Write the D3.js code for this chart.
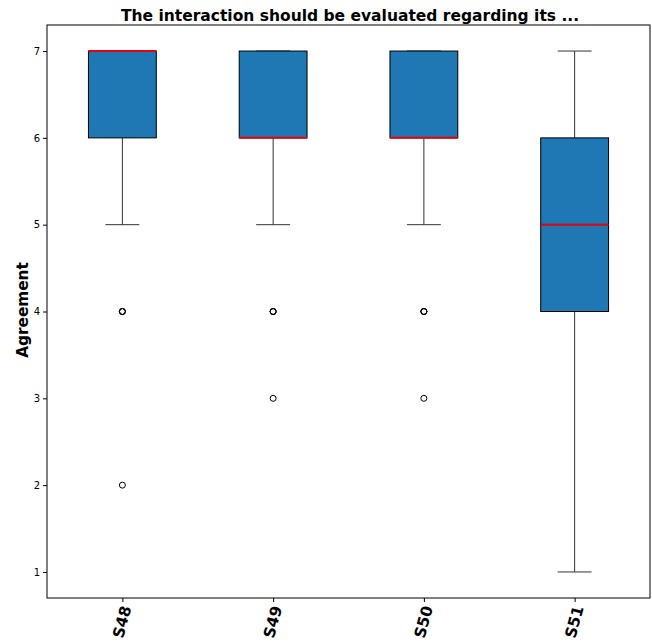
<!DOCTYPE html>
<html><head><meta charset="utf-8">
<script src="https://cdn.jsdelivr.net/npm/d3@7"></script>
<style>body{margin:0;background:#fff;}svg{display:block;font-family:"DejaVu Sans",sans-serif;}</style>
</head><body>
<svg id="c" width="652" height="642"></svg>
<script>
const categories = ["S48", "S49", "S50", "S51"];
const q1 = [6, 6, 6, 4];
const medians = [7, 6, 6, 5];
const q3 = [7, 7, 7, 6];
const whiskerLow = [5, 5, 5, 1];
const whiskerHigh = [7, 7, 7, 7];
const outliers = [[4, 4, 4, 2], [4, 4, 4, 3], [4, 4, 4, 3], []];
const yTicks = [1, 2, 3, 4, 5, 6, 7];
const title = "The interaction should be evaluated regarding its ...";
const yLabel = "Agreement";

const svg = d3.select("#c");
const m = {left: 47, right: 650, top: 25, bottom: 598};
const x = d3.scaleLinear().domain([0.5, 4.5]).range([m.left, m.right]);
const y = d3.scaleLinear().domain([0.7, 7.3]).range([m.bottom, m.top]);
const boxW = x(0.45) - x(0);
const capW = boxW / 2;

// title
svg.append("text").attr("x", 350).attr("y", 21)
  .attr("text-anchor", "middle").attr("font-size", 15.5).attr("font-weight", "bold")
  .text(title);

// y label
svg.append("text").attr("transform", `translate(28,310) rotate(-90)`)
  .attr("text-anchor", "middle").attr("font-size", 15.3).attr("font-weight", "bold")
  .text(yLabel);

// y axis
const yAxis = svg.append("g").attr("transform", `translate(${m.left},0)`)
  .call(d3.axisLeft(y).tickValues(yTicks).tickFormat(d3.format("d")).tickSize(4).tickPadding(3));
yAxis.select(".domain").remove();
yAxis.selectAll("text").attr("font-size", 10).attr("font-family", "DejaVu Sans").attr("fill", "#000");
yAxis.selectAll("line").attr("stroke", "#000");

// x axis
const xAxis = svg.append("g").attr("transform", `translate(0,${m.bottom})`)
  .call(d3.axisBottom(x).tickValues(categories.map((c, i) => i + 1)).tickFormat((d) => categories[d - 1]).tickSize(4));
xAxis.select(".domain").remove();
xAxis.selectAll("line").attr("stroke", "#000");
xAxis.selectAll("text").remove();
categories.forEach((c, i) => {
  svg.append("text")
    .attr("transform", `translate(${x(i + 1)},${m.bottom + 24}) rotate(-75)`)
    .attr("text-anchor", "middle").attr("dominant-baseline", "central")
    .attr("font-size", 15.5).attr("font-weight", "bold").attr("fill", "#000")
    .text(c);
});

// frame
svg.append("rect").attr("x", m.left).attr("y", m.top)
  .attr("width", m.right - m.left).attr("height", m.bottom - m.top)
  .attr("fill", "none").attr("stroke", "#000").attr("stroke-width", 1);

const g = svg.append("g");
categories.forEach((c, i) => {
  const cx = x(i + 1);
  const stroke = "#333";
  g.append("line").attr("x1", cx).attr("x2", cx).attr("y1", y(q1[i])).attr("y2", y(whiskerLow[i])).attr("stroke", stroke);
  g.append("line").attr("x1", cx).attr("x2", cx).attr("y1", y(q3[i])).attr("y2", y(whiskerHigh[i])).attr("stroke", stroke);
  g.append("line").attr("x1", cx - capW / 2).attr("x2", cx + capW / 2).attr("y1", y(whiskerLow[i])).attr("y2", y(whiskerLow[i])).attr("stroke", stroke);
  g.append("line").attr("x1", cx - capW / 2).attr("x2", cx + capW / 2).attr("y1", y(whiskerHigh[i])).attr("y2", y(whiskerHigh[i])).attr("stroke", stroke);
  g.append("rect").attr("x", cx - boxW / 2).attr("y", y(q3[i]))
    .attr("width", boxW).attr("height", Math.max(0, y(q1[i]) - y(q3[i])))
    .attr("fill", "#1f77b4").attr("stroke", "#000").attr("stroke-width", 1);
  g.append("line").attr("x1", cx - boxW / 2).attr("x2", cx + boxW / 2)
    .attr("y1", y(medians[i])).attr("y2", y(medians[i]))
    .attr("stroke", "#e8000b").attr("stroke-width", 2);
  outliers[i].forEach(v => {
    g.append("circle").attr("cx", cx).attr("cy", y(v)).attr("r", 3)
      .attr("fill", "none").attr("stroke", "#000").attr("stroke-width", 1);
  });
});
</script>
</body></html>
